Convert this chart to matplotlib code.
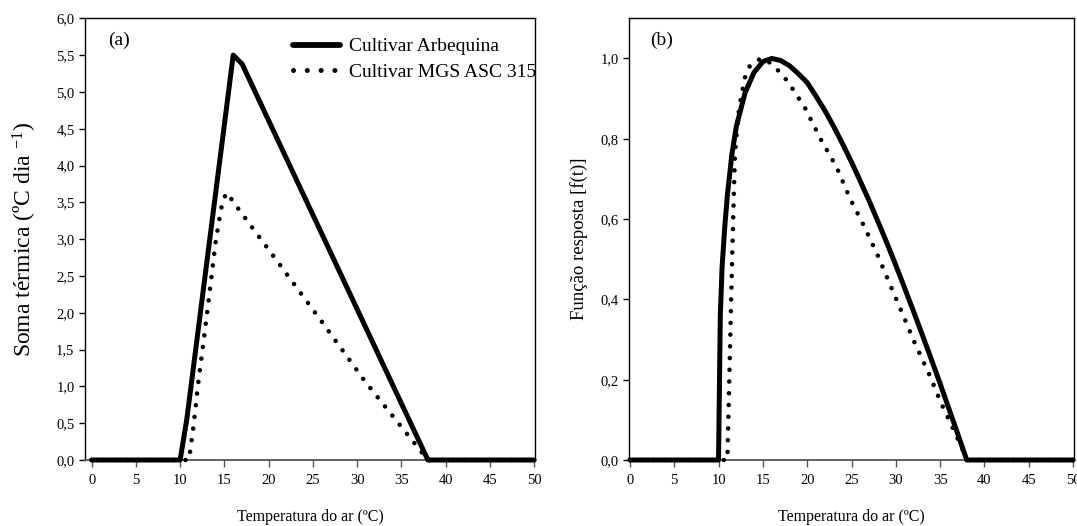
import matplotlib
matplotlib.use("Agg")
import matplotlib.pyplot as plt
from matplotlib.lines import Line2D
from matplotlib.ticker import FuncFormatter, MultipleLocator

plt.rcParams['font.family'] = ['Liberation Serif', 'DejaVu Serif']
plt.rcParams['mathtext.fontset'] = 'custom'
plt.rcParams['mathtext.rm'] = 'Liberation Serif'
plt.rcParams['mathtext.it'] = 'Liberation Serif:italic'

# ---------------- data ----------------
# (a) Soma térmica (ºC dia-1)
temp_a_arb = [0, 10, 10.75, 16, 17, 38, 50]
soma_arb = [0, 0, 0.55, 5.5, 5.38, 0, 0]

temp_a_mgs = [0, 11.0, 11.5, 12.0, 13.0, 14.0, 14.6, 15.0, 15.3, 16.1, 21.1, 26.0, 31.0, 36.0, 38.0, 50]
soma_mgs = [0, 0, 0.45, 1.0, 1.95, 2.95, 3.40, 3.57, 3.63, 3.49, 2.68, 1.88, 1.05, 0.30, 0, 0]

# (b) Função resposta f(t)
temp_b_arb = [0, 10, 10.2, 10.4, 10.7, 11, 11.5, 12, 13, 14, 15, 16, 17, 18, 19, 20, 21, 22,
              23, 24, 25, 26, 27, 28, 29, 30, 31, 32, 33, 34, 35, 36, 37, 38, 50]
f_arb = [0, 0, 0.36, 0.48, 0.58, 0.66, 0.76, 0.83, 0.915, 0.965, 0.992, 1.0, 0.995, 0.982,
         0.962, 0.94, 0.906, 0.87, 0.83, 0.787, 0.742, 0.694, 0.645, 0.593, 0.54, 0.485,
         0.428, 0.37, 0.311, 0.251, 0.19, 0.127, 0.064, 0, 0]

temp_b_mgs = [0, 11.0, 11.35, 11.65, 11.85, 12.2, 12.6, 13.0, 13.5, 14.4, 15.0, 15.5, 16.6,
              17.6, 18.4, 19.8, 21.5, 23.3, 24.8, 26.4, 27.95, 29.4, 30.8, 32.2, 33.7, 35.1,
              36.7, 37.7, 38.0, 50]
f_mgs = [0, 0, 0.33, 0.60, 0.76, 0.856, 0.91, 0.954, 0.98, 0.996, 1.0, 0.995, 0.973,
         0.948, 0.923, 0.875, 0.80, 0.73, 0.653, 0.583, 0.51, 0.434, 0.362, 0.288, 0.217,
         0.142, 0.067, 0.017, 0, 0]

labels = ['Cultivar Arbequina', 'Cultivar MGS ASC 315']
xticks = [0, 5, 10, 15, 20, 25, 30, 35, 40, 45, 50]

# ---------------- figure ----------------
W, H = 1077, 526
fig = plt.figure(figsize=(W / 100, H / 100), dpi=100)

axA = fig.add_axes([85 / W, 66 / H, 450 / W, 441.7 / H])
axB = fig.add_axes([629 / W, 66 / H, 445 / W, 441.7 / H])

comma = FuncFormatter(lambda v, p: f"{v:.1f}".replace('.', ','))

solid_kw = dict(color='black', lw=3.6, solid_capstyle='round', solid_joinstyle='round',
                clip_on=False, zorder=3)
dot_kw = dict(color='black', lw=3.3, linestyle=(0, (0.01, 2.55)), dash_capstyle='round',
              clip_on=False, zorder=4)


def style(ax, xmin):
    ax.set_xlim(xmin, 50.1)
    ax.set_xticks(xticks)
    ax.xaxis.set_major_formatter(FuncFormatter(lambda v, p: f"{int(v)}"))
    ax.yaxis.set_major_formatter(comma)
    for s in ['top', 'right', 'left']:
        ax.spines[s].set_color('black')
        ax.spines[s].set_linewidth(1.0)
    ax.spines['bottom'].set_color('#555555')
    ax.spines['bottom'].set_linewidth(1.3)
    ax.tick_params(axis='x', direction='out', length=5, width=1.0, color='#555555',
                   labelsize=10.5, pad=5)
    ax.tick_params(axis='y', direction='out', length=4.5, width=1.0, color='black',
                   labelsize=10.5, pad=3)
    ax.tick_params(top=False, right=False)
    ax.set_xlabel('Temperatura do ar (ºC)', fontsize=11.5, labelpad=16)


# panel (a)
axA.plot(temp_a_arb, soma_arb, **solid_kw)
axA.plot(temp_a_mgs, soma_mgs, **dot_kw)
axA.set_ylim(0, 6.0)
axA.yaxis.set_major_locator(MultipleLocator(0.5))
style(axA, -0.75)
axA.set_ylabel('Soma térmica (ºC dia $^{\\mathrm{-1}}$)', fontsize=17)
axA.yaxis.set_label_coords(-0.102, 0.5)
axA.text(0.051, 0.951, '(a)', transform=axA.transAxes, fontsize=14, ha='left', va='center')
h1 = Line2D([], [], color='black', lw=4.2, solid_capstyle='round')
h2 = Line2D([], [], color='black', lw=3.6, linestyle=(0, (0.01, 2.75)), dash_capstyle='round')
axA.legend([h1, h2], labels, loc='upper left', bbox_to_anchor=(0.462, 0.956),
           frameon=False, fontsize=14, borderpad=0, borderaxespad=0,
           handlelength=2.4, handletextpad=0.5, labelspacing=0.4)

# panel (b)
axB.plot(temp_b_arb, f_arb, **solid_kw)
axB.plot(temp_b_mgs, f_mgs, **dot_kw)
axB.set_ylim(0, 1.1)
axB.set_yticks([0, 0.2, 0.4, 0.6, 0.8, 1.0])
style(axB, -0.1)
axB.set_ylabel('Função resposta [f(t)]', fontsize=13.5)
axB.yaxis.set_label_coords(-0.092, 0.5)
axB.text(0.047, 0.951, '(b)', transform=axB.transAxes, fontsize=14, ha='left', va='center')

fig.savefig('out.png', dpi=100)
